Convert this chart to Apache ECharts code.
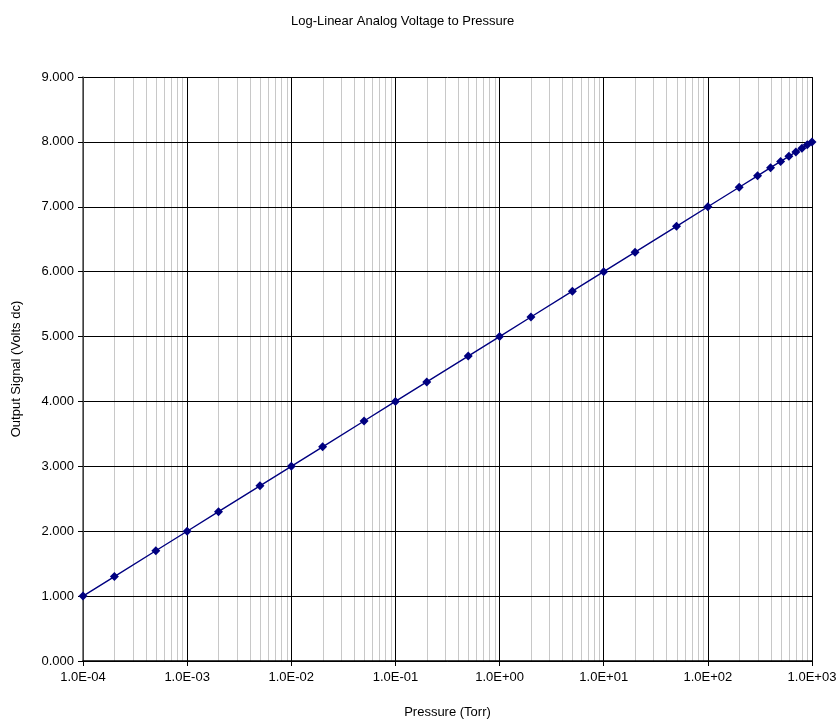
<!DOCTYPE html>
<html><head><meta charset="utf-8">
<script src="https://cdn.jsdelivr.net/npm/echarts@6/dist/echarts.min.js"></script>
<style>html,body{margin:0;padding:0;background:#fff}#c{width:837px;height:719px}</style>
</head><body><div id="c"></div>
<script>
var pressures = [1e-4,2e-4,5e-4,1e-3,2e-3,5e-3,1e-2,2e-2,5e-2,0.1,0.2,0.5,1,2,5,10,20,50,100,200,300,400,500,600,700,800,900,1000];
var voltages = [1.000,1.301,1.699,2.000,2.301,2.699,3.000,3.301,3.699,4.000,4.301,4.699,5.000,5.301,5.699,6.000,6.301,6.699,7.000,7.301,7.477,7.602,7.699,7.778,7.845,7.903,7.954,8.000];
var decades = [1e-4,1e-3,1e-2,1e-1,1,10,100];
var multipliers = [2,3,4,5,6,7,8,9];
var minorGrid = [];
decades.forEach(function(d){ multipliers.forEach(function(m){ minorGrid.push(+(d*m).toPrecision(3)); }); });

var font = 'Liberation Sans, Arial, sans-serif';
function fmtExp(v){
  var e = Math.round(Math.log10(v));
  var m = v / Math.pow(10, e);
  var s = e < 0 ? '-' : '+';
  var a = Math.abs(e);
  return m.toFixed(1) + 'E' + s + (a < 10 ? '0' + a : a);
}
var chart = echarts.init(document.getElementById('c'), null, {renderer:'canvas'});
chart.setOption({
  animation: false,
  title: {text: 'Log-Linear Analog Voltage to Pressure', left: 286, top: 10,
    textStyle: {fontFamily: font, fontSize: 13, fontWeight: 'normal', color: '#000'}},
  grid: {left: 83, right: 25, top: 77, bottom: 58, containLabel: false, outerBoundsMode: 'none'},
  xAxis: {type: 'log', logBase: 10, min: 1e-4, max: 1e3, interval: 1,
    name: 'Pressure (Torr)', nameLocation: 'middle', nameGap: 45,
    nameTextStyle: {fontFamily: font, fontSize: 13, color: '#000'},
    axisLine: {lineStyle: {color: '#000', width: 1.5}},
    axisTick: {show: true, length: 5, lineStyle: {color: '#000'}},
    axisLabel: {fontFamily: font, fontSize: 13, color: '#000', margin: 10, formatter: fmtExp},
    splitLine: {show: true, lineStyle: {color: '#000', width: 1}}
  },
  yAxis: {type: 'value', min: 0, max: 9, interval: 1,
    name: 'Output Signal (Volts dc)', nameLocation: 'middle', nameGap: 60,
    nameTextStyle: {fontFamily: font, fontSize: 13, color: '#000'},
    axisLine: {show: true, lineStyle: {color: '#555', width: 1.5}},
    axisTick: {show: true, length: 5, lineStyle: {color: '#000'}},
    axisLabel: {fontFamily: font, fontSize: 13, color: '#000', margin: 9, formatter: function(v){return v.toFixed(3);}},
    splitLine: {show: true, lineStyle: {color: '#000', width: 1}}
  },
  series: [
    {type: 'custom', silent: true, z: -1,
      data: minorGrid.map(function(v){ return [v]; }),
      encode: {x: 0},
      renderItem: function(params, api){
        var v = api.value(0);
        var p0 = api.coord([v, 0]);
        var p1 = api.coord([v, 9]);
        return {type: 'line', shape: {x1: Math.round(p0[0]) + 0.5, y1: p0[1], x2: Math.round(p1[0]) + 0.5, y2: p1[1]},
          style: {stroke: '#c8c8c8', lineWidth: 1}};
      }},
    {type: 'line', z: 5, data: pressures.map(function(p, i){ return [p, voltages[i]]; }),
      symbol: 'diamond', symbolSize: 9, showSymbol: true,
      lineStyle: {color: '#000080', width: 1.4},
      itemStyle: {color: '#000080'}}
  ]
});
</script></body></html>
